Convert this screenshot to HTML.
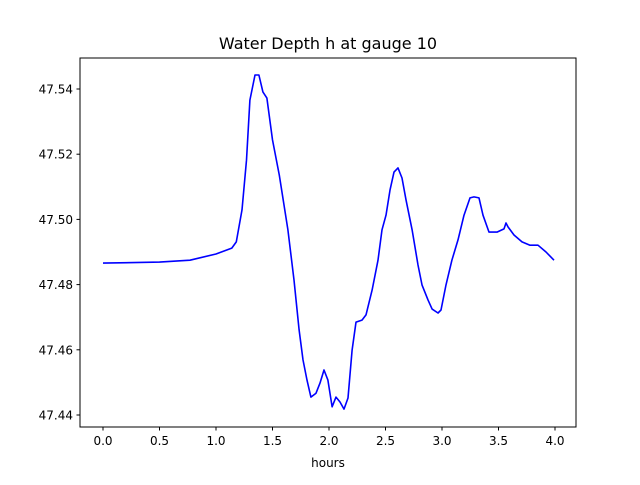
<!DOCTYPE html>
<html><head><meta charset="utf-8"><style>
body{margin:0;background:#fff}
svg{font-family:"DejaVu Sans","Liberation Sans",sans-serif}
</style></head><body>
<svg id="chart" width="640" height="480" xmlns="http://www.w3.org/2000/svg">
<rect x="0" y="0" width="640" height="480" fill="#fff"/>
<text x="328" y="49" font-size="16" text-anchor="middle">Water Depth h at gauge 10</text>
<g id="plot"></g>
<rect x="80" y="58" width="496" height="369" fill="none" stroke="#000" stroke-width="1"/>
<text x="328" y="467" font-size="12" text-anchor="middle">hours</text>
</svg>
<script>
const xVals=[0,0.5,0.77,1.0,1.14,1.18,1.23,1.27,1.30,1.345,1.38,1.415,1.45,1.50,1.56,1.636,1.69,1.735,1.77,1.805,1.84,1.885,1.92,1.956,1.99,2.027,2.062,2.097,2.133,2.168,2.204,2.239,2.292,2.327,2.381,2.434,2.469,2.504,2.540,2.575,2.611,2.646,2.681,2.735,2.788,2.823,2.876,2.912,2.965,2.991,3.035,3.088,3.142,3.195,3.248,3.283,3.327,3.363,3.416,3.487,3.549,3.566,3.584,3.637,3.708,3.779,3.850,3.920,3.991];
const hVals=[47.4866,47.4869,47.4875,47.4894,47.4912,47.4931,47.5029,47.5182,47.5366,47.5443,47.5443,47.5391,47.5372,47.5244,47.5136,47.4968,47.4814,47.4661,47.4569,47.4507,47.4455,47.4467,47.4498,47.4538,47.4507,47.4425,47.4455,47.4440,47.4418,47.4452,47.4599,47.4685,47.4691,47.4707,47.4783,47.4875,47.4968,47.5013,47.5090,47.5145,47.5158,47.5127,47.5060,47.4968,47.4860,47.4799,47.4753,47.4725,47.4713,47.4722,47.4799,47.4875,47.4937,47.5013,47.5066,47.5069,47.5066,47.5013,47.4961,47.4961,47.4971,47.4989,47.4977,47.4952,47.4931,47.4921,47.4921,47.4900,47.4875];
const xTicks=[0,0.5,1.0,1.5,2.0,2.5,3.0,3.5,4.0];
const xTickLabels=["0.0","0.5","1.0","1.5","2.0","2.5","3.0","3.5","4.0"];
const yTicks=[47.44,47.46,47.48,47.50,47.52,47.54];
const yTickLabels=["47.44","47.46","47.48","47.50","47.52","47.54"];
const X=v=>103+v*113;
const Y=v=>89+(47.54-v)*3260;
const NS="http://www.w3.org/2000/svg";
const g=document.getElementById('plot');
function mk(t,a){const e=document.createElementNS(NS,t);for(const k in a)e.setAttribute(k,a[k]);g.appendChild(e);return e;}
xTicks.forEach((t,i)=>{
  const l=mk('line',{x1:X(t),x2:X(t),y1:427,y2:430.5,stroke:'#000'});
  
  
  const tx=mk('text',{x:X(t),y:445,'font-size':12,'text-anchor':'middle'});
  tx.textContent=xTickLabels[i];
  
  
});
yTicks.forEach((t,i)=>{
  const l=mk('line',{x1:76.5,x2:80,y1:Y(t),y2:Y(t),stroke:'#000'});
  
  
  const tx=mk('text',{x:73,y:Y(t)+4.5,'font-size':12,'text-anchor':'end'});
  tx.textContent=yTickLabels[i];
  
  
});
const p=mk('polyline',{points:xVals.map((x,i)=>X(x).toFixed(1)+','+Y(hVals[i]).toFixed(1)).join(' '),fill:'none',stroke:'#0000ff','stroke-width':1.6,'stroke-linejoin':'round'});


</script>
</body></html>
